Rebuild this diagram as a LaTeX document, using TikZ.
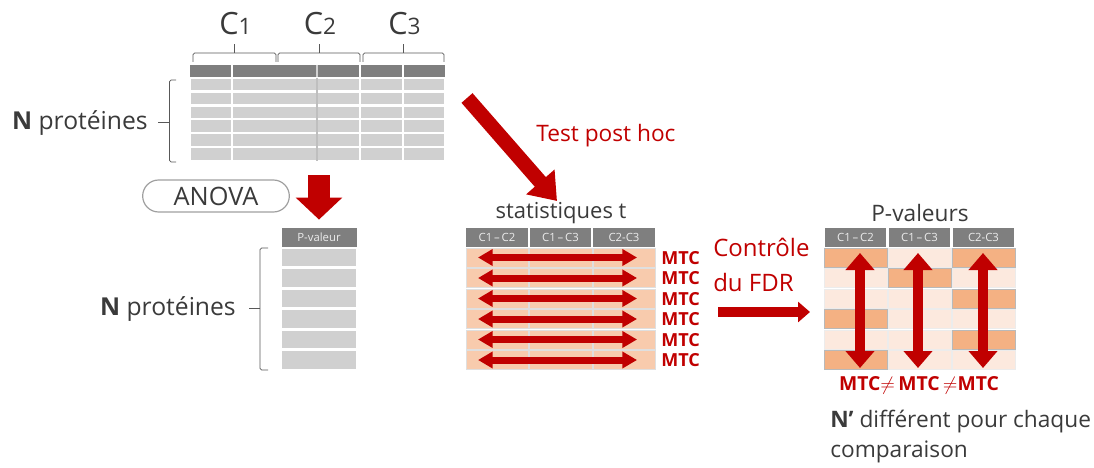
\documentclass[tikz,border=0pt]{standalone}
\usepackage{fontspec}
\setmainfont{Open Sans}
\usetikzlibrary{arrows.meta,positioning}
\definecolor{hdRed}{HTML}{C00000}
\definecolor{hdGray}{HTML}{7F7F7F}
\definecolor{txtInk}{HTML}{3A3A3A}
\definecolor{cellGray}{HTML}{D0D0D0}
\definecolor{cellPeach}{HTML}{F8CBAD}
\definecolor{cellPale}{HTML}{FCE9DE}
\definecolor{cellOrange}{HTML}{F4B183}
\tikzset{
 schema/.style={line cap=butt,line join=miter,text=txtInk},
 lbl/.style={font=\fontsize{18.5}{22}\selectfont,inner sep=0pt},
 title/.style={font=\fontsize{16.5}{20}\selectfont,inner sep=0pt},
 redlbl/.style={font=\fontsize{17}{22}\selectfont,inner sep=0pt,text=hdRed},
 clbl/.style={font=\fontsize{23}{26}\selectfont,inner sep=0pt,anchor=base},
 anovabox/.style={draw=gray!75,line width=.9pt,rounded corners=12pt,minimum width=110pt,
   minimum height=24pt,inner sep=0pt,font=\fontsize{19}{19}\selectfont},
 hdcell/.style={rectangle,fill=hdGray,draw=white,line width=.6pt,inner sep=0pt,
   minimum width=47pt,minimum height=14.5pt,text=white!85!gray,font=\fontsize{8.5}{9}\selectfont},
 graycell/.style={fill=cellGray,draw=white,line width=1.1pt},
 peachcell/.style={fill=cellPeach,draw=gray!25,line width=.6pt},
 palecell/.style={fill=cellPale,draw=gray!15,line width=.6pt},
 darkcell/.style={fill=cellOrange,draw=gray!55,line width=.6pt},
 brace/.style={draw=txtInk!85,line width=.6pt,rounded corners=1.2pt},
 bigarrow/.style={draw=hdRed,line width=17pt,-{Triangle[length=16.5pt,width=34pt]}},
 slantarrow/.style={draw=hdRed,line width=11pt,-{Triangle[length=19pt,width=27pt]}},
 flowarrow/.style={draw=hdRed,line width=7.5pt,-{Triangle[length=9pt,width=15pt]}},
 rowarrow/.style={draw=hdRed,line width=5.25pt,
   {Triangle[length=11pt,width=12pt]}-{Triangle[length=11pt,width=12pt]}},
 colarrow/.style={draw=hdRed,line width=7.5pt,
   {Triangle[length=12.75pt,width=21pt]}-{Triangle[length=12.75pt,width=21pt]}},
 mtc/.style={font=\fontsize{13.5}{14}\selectfont\bfseries,text=hdRed,inner sep=0pt,anchor=west}
}

\begin{document}
\begin{tikzpicture}[schema,x=.75pt,y=-.75pt]
 \useasboundingbox (0,0) rectangle (1094,467);
 % donnees brutes
 \fill[hdGray] (190,65) rectangle (445,77);
 \foreach \r in {0,...,5}
   \draw[graycell] (190,{78+\r*13.9}) rectangle (445,{91+\r*13.9});
 \foreach \x in {232,360,403}
   \draw[white,line width=.8pt] (\x,65) -- (\x,161);
 \draw[gray!35,line width=.8pt] (317,65) -- (317,77);
 \draw[gray!50,line width=.8pt] (317,78) -- (317,161);
 \foreach \a/\b/\n in {193/276/1,278/360/2,363/444/3}{
   \draw[brace] (\a,62) -- (\a,53) -- (\b,53) -- (\b,62);
   \draw[brace] ({(\a+\b)/2},53) -- ({(\a+\b)/2},44);
   \node[clbl] (cond\n) at ({(\a+\b)/2+1},35) {C{\fontsize{17}{17}\selectfont\n}};
 }
 \draw[brace] (176,80) -- (169.5,80) -- (169.5,162) -- (176,162);
 \draw[brace] (169.5,122) -- (158,122);
 \node[lbl,anchor=east] (nHaut) at (148,123) {\textbf{N} protéines};

 % ANOVA
 \node[anovabox] (anova) at (216,196) {ANOVA};
 \coordinate (anovaArrow) at (319,175);
 \node[hdcell,minimum width=57pt,minimum height=15pt] (pvalHead) at (319,237) {P-valeur};
 \draw[bigarrow] (anovaArrow) -- ([yshift=5.25pt]pvalHead.north);
 \foreach \r in {0,...,5}
   \draw[graycell] (281,{248+\r*20.5}) rectangle (357,{267+\r*20.5});
 \draw[brace] (268,248) -- (260,248) -- (260,370) -- (268,370);
 \draw[brace] (260,308) -- (249,308);
 \node[lbl,anchor=east] (nBas) at (236,309) {\textbf{N} protéines};

 % test post hoc
 \coordinate (postStart) at (467,98);
 \coordinate (postEnd) at (557,201);
 \draw[slantarrow] (postStart) -- (postEnd);
 \node[redlbl] (posthoc) at (606,136) {Test post hoc};
 \node[title] (statTitle) at (561,213) {statistiques t};
 \foreach \c/\t in {0/C1\,–\,C2,1/C1\,–\,C3,2/C2-C3}
   \node[hdcell] (st\c) at ({497+\c*63.5},237.5) {\t};
 \foreach \r in {0,...,5}{
   \foreach \c in {0,1,2}
     \draw[peachcell] ({466+\c*63.5},{248+\r*20.5}) rectangle ({528.5+\c*63.5},{267+\r*20.5});
   \coordinate (rowL\r) at (478,{257.5+\r*20.5});
   \coordinate (rowR\r) at (637,{257.5+\r*20.5});
   \draw[rowarrow] (rowL\r) -- (rowR\r);
   \node[mtc] (mtc\r) at (661,{258+\r*20.5}) {MTC};
 }

 % controle du FDR
 \node[redlbl,anchor=west,align=left,font=\fontsize{18}{26}\selectfont] (fdr) at (713,265) {Contrôle\\du FDR};
 \coordinate (fdrStart) at (718,312);
 \coordinate (fdrEnd) at (810,312);
 \draw[flowarrow] (fdrStart) -- (fdrEnd);
 \node[title,font=\fontsize{17}{20}\selectfont] (pTitle) at (920,213) {P-valeurs};
 \foreach \c/\t in {0/C1\,–\,C2,1/C1\,–\,C3,2/C2-C3}
   \node[hdcell] (pv\c) at ({855.5+\c*64},237.5) {\t};
 \foreach \r in {0,...,5}
   \foreach \c in {0,1,2}
     \draw[palecell] ({824+\c*64},{248+\r*20.5}) rectangle ({887+\c*64},{267+\r*20.5});
 \foreach \c/\r in {0/0,0/3,0/5,1/1,2/0,2/2,2/4}
   \draw[darkcell] ({824+\c*64},{248+\r*20.5}) rectangle ({887+\c*64},{267+\r*20.5});
 \foreach \c/\x in {0/860,1/918,2/983}{
   \coordinate (colT\c) at (\x,253);
   \coordinate (colB\c) at (\x,368);
   \draw[colarrow] (colT\c) -- (colB\c);
 }
 \node[mtc,anchor=center,font=\fontsize{14.5}{15}\selectfont\bfseries] (mtcNeq) at (919,385)
   {MTC{\Large$\neq$}\,MTC\,{\Large$\neq$}MTC};
 \node[lbl,anchor=north west,align=left,font=\fontsize{17}{22.5}\selectfont] (nPrime) at (830,410)
   {\textbf{N’} différent pour chaque\\comparaison};
\end{tikzpicture}
\end{document}
